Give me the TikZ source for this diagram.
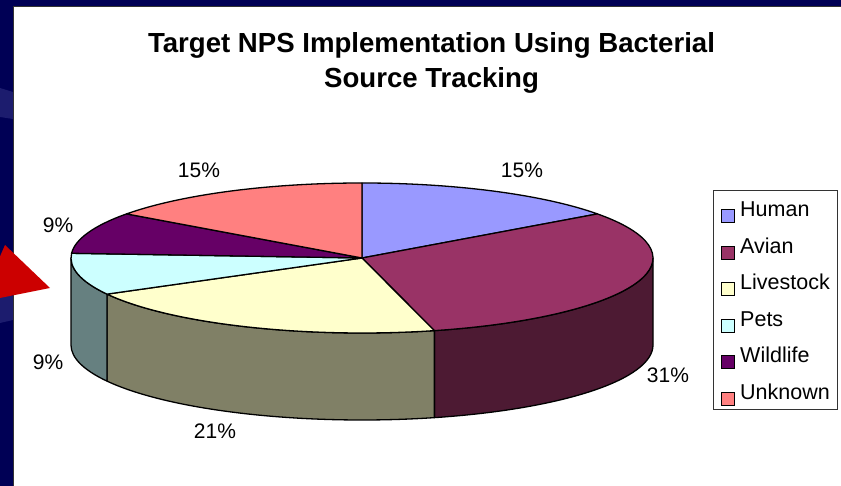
\documentclass[tikz,border=0pt]{standalone}
\usepackage{fontspec}
\setmainfont{Liberation Sans}
\definecolor{navy}{HTML}{000055}
\definecolor{navylight}{HTML}{1C1C6E}
\definecolor{arrowred}{HTML}{CC0000}
\definecolor{cHuman}{HTML}{9999FF}
\definecolor{cAvian}{HTML}{993366}
\definecolor{cLivestock}{HTML}{FFFFCC}
\definecolor{cPets}{HTML}{CCFFFF}
\definecolor{cWildlife}{HTML}{660066}
\definecolor{cUnknown}{HTML}{FF8080}
\definecolor{sAvian}{HTML}{4D1A33}
\definecolor{sLivestock}{HTML}{808066}
\definecolor{sPets}{HTML}{668080}
\newcommand\pieTop[3]{\filldraw[piefill,fill=#3] (0,0) -- (#1:291pt and 75pt) arc[start angle=#1,end angle=#2,x radius=291pt,y radius=75pt] -- cycle;}
\newcommand\pieSide[3]{\filldraw[piefill,fill=#3] (#1:291pt and 75pt) arc[start angle=#1,end angle=#2,x radius=291pt,y radius=75pt] -- ++(0,-87) arc[start angle=#2,end angle=#1,x radius=291pt,y radius=75pt] -- cycle;}
\begin{document}
\begin{tikzpicture}[x=1pt,y=1pt,
  piefill/.style={draw=black,line width=1.3pt,line join=round},
  pct/.style={font=\fontsize{21}{25}\selectfont,inner sep=0pt},
  legtext/.style={font=\fontsize{21.5}{25}\selectfont,anchor=base west,inner sep=0pt},
  legmark/.style={draw=black,line width=0.8pt,minimum size=13pt,inner sep=0pt},
  titlefont/.style={font=\bfseries\fontsize{27.6}{33}\selectfont,anchor=base,inner sep=0pt}]
\useasboundingbox (0,0) rectangle (841,486);
\begin{scope}
\clip (0,0) rectangle (841,486);
\fill[navy] (0,0) rectangle (841,486);
\fill[navylight] (0,398) -- (13,394) -- (13,367) -- (0,369) -- cycle;
\fill[navylight] (0,193) -- (13,190) -- (13,166) -- (0,163) -- cycle;
\fill[white] (13,0) rectangle (841,480);
\draw[black!80,line width=0.8pt] (13,0) -- (13,480) -- (841,480);
\fill[arrowred] (5,241) -- (50,198) -- (-20,184) -- cycle;
\end{scope}
\begin{scope}[shift={(362,228)}]
\pieSide{-75.6}{0}{sAvian}
\pieSide{-151.2}{-75.6}{sLivestock}
\pieSide{-180}{-151.2}{sPets}
\pieTop{36}{90}{cHuman}
\pieTop{-75.6}{36}{cAvian}
\pieTop{-151.2}{-75.6}{cLivestock}
\pieTop{-183.6}{-151.2}{cPets}
\pieTop{-216}{-183.6}{cWildlife}
\pieTop{90}{144}{cUnknown}
\end{scope}
\node (title1) [titlefont] at (431.5,433) {Target NPS Implementation Using Bacterial};
\node (title2) [titlefont] at (431.5,398) {Source Tracking};
\node (lHuman) [pct] at (522,316) {15\%};
\node (lAvian) [pct] at (668,111) {31\%};
\node (lLivestock) [pct] at (215,55) {21\%};
\node (lPets) [pct] at (48,124) {9\%};
\node (lWildlife) [pct] at (58,261) {9\%};
\node (lUnknown) [pct] at (199,316) {15\%};
\node (legend) [draw=black!80,line width=0.8pt,minimum width=124pt,minimum height=219pt,inner sep=0pt] at (775,186.5) {};
\foreach \name/\col [count=\i from 0] in {Human/cHuman,Avian/cAvian,Livestock/cLivestock,Pets/cPets,Wildlife/cWildlife,Unknown/cUnknown}{
  \node (m\name) [legmark,fill=\col] at (728,{270-36.5*\i}) {};
  \node (t\name) [legtext] at (740,{269.3-36.5*\i}) {\name};
}
\end{tikzpicture}
\end{document}
